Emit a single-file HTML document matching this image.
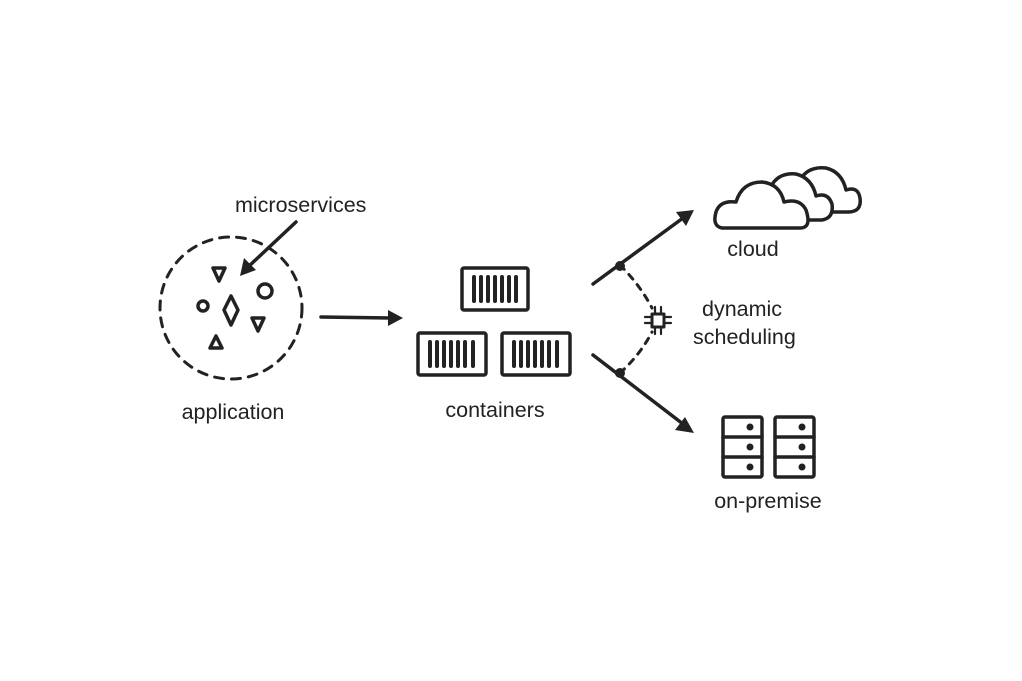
<!DOCTYPE html>
<html><head><style>body{margin:0;background:#fff}svg{display:block}text{font-family:"Liberation Sans",sans-serif;fill:#222;font-size:21.5px}</style></head><body>
<svg width="1022" height="681" viewBox="0 0 1022 681" xmlns="http://www.w3.org/2000/svg">
<g stroke="#222" stroke-width="3.5" fill="none" stroke-linecap="round" stroke-linejoin="round">
<circle cx="231" cy="308" r="71" stroke-width="3" stroke-dasharray="9 8"/>
<line x1="296" y1="222" x2="248" y2="267"/>
<path d="M213 268 L225 268 L219 281 Z"/>
<circle cx="203" cy="306" r="5"/>
<path d="M231 296 L238 310 L231 325 L224 310 Z"/>
<circle cx="265" cy="291" r="7"/>
<path d="M252 318 L264 318 L258 331 Z"/>
<path d="M216 336 L222 348 L210 348 Z"/>
<line x1="321" y1="317" x2="392" y2="318"/>
<rect x="462" y="268" width="66" height="42" rx="2"/>
<rect x="418" y="333" width="68" height="42" rx="2"/>
<rect x="502" y="333" width="68" height="42" rx="2"/>
<g stroke-width="4">
<path d="M474 277v24M481 277v24M488 277v24M495 277v24M502 277v24M509 277v24M516 277v24"/>
<path d="M430 342v24M437 342v24M444 342v24M451 342v24M458 342v24M465 342v24M473 342v24"/>
<path d="M514 342v24M521 342v24M528 342v24M535 342v24M542 342v24M549 342v24M557 342v24"/>
</g>
<line x1="593" y1="284" x2="683" y2="218"/>
<line x1="593" y1="355" x2="683" y2="424"/>
<path d="M620 265 Q640 285 652 308" stroke-width="3" stroke-dasharray="6 7"/>
<path d="M620 373 Q640 355 652 332" stroke-width="3" stroke-dasharray="6 7"/>
<rect x="652" y="314" width="12" height="13" stroke-width="3"/>
<path d="M655 307v6M661 307v6M655 328v6M661 328v6M645 317h6M645 323h6M665 317h6M665 323h6" stroke-width="2.2"/>
<path d="M826 212 L848 212 Q862 212 860 198 Q858 186 846 190 Q842 172 826 168 Q808 166 800 180" fill="#fff"/>
<path d="M790 220 L822 220 Q834 218 832 204 Q828 192 816 196 Q812 178 796 174 Q778 172 770 188" fill="#fff"/>
<path d="M722 228 Q712 226 716 212 Q720 200 736 202 Q742 182 762 182 Q780 184 784 202 Q800 198 806 210 Q812 228 800 228 Z" fill="#fff"/>
<rect x="723" y="417" width="39" height="60" rx="2"/>
<rect x="775" y="417" width="39" height="60" rx="2"/>
<path d="M723 437h39M723 457h39M775 437h39M775 457h39"/>
</g>
<g fill="#222">
<path d="M240 276 L244 258 L256 270 Z"/>
<path d="M403 318 L388 310 L388 326 Z"/>
<path d="M694 210 L676 212 L686 226 Z"/>
<path d="M694 433 L685 417 L675 430 Z"/>
<circle cx="620" cy="266" r="5"/><circle cx="620" cy="373" r="5"/>
<circle cx="750" cy="427" r="3.5"/><circle cx="750" cy="447" r="3.5"/><circle cx="750" cy="467" r="3.5"/>
<circle cx="802" cy="427" r="3.5"/><circle cx="802" cy="447" r="3.5"/><circle cx="802" cy="467" r="3.5"/>
</g>
<text x="235" y="212">microservices</text>
<text x="233" y="419" text-anchor="middle">application</text>
<text x="495" y="417" text-anchor="middle">containers</text>
<text x="702" y="316">dynamic</text>
<text x="693" y="344">scheduling</text>
<text x="753" y="256" text-anchor="middle">cloud</text>
<text x="768" y="508" text-anchor="middle">on-premise</text>
</svg>
</body></html>
